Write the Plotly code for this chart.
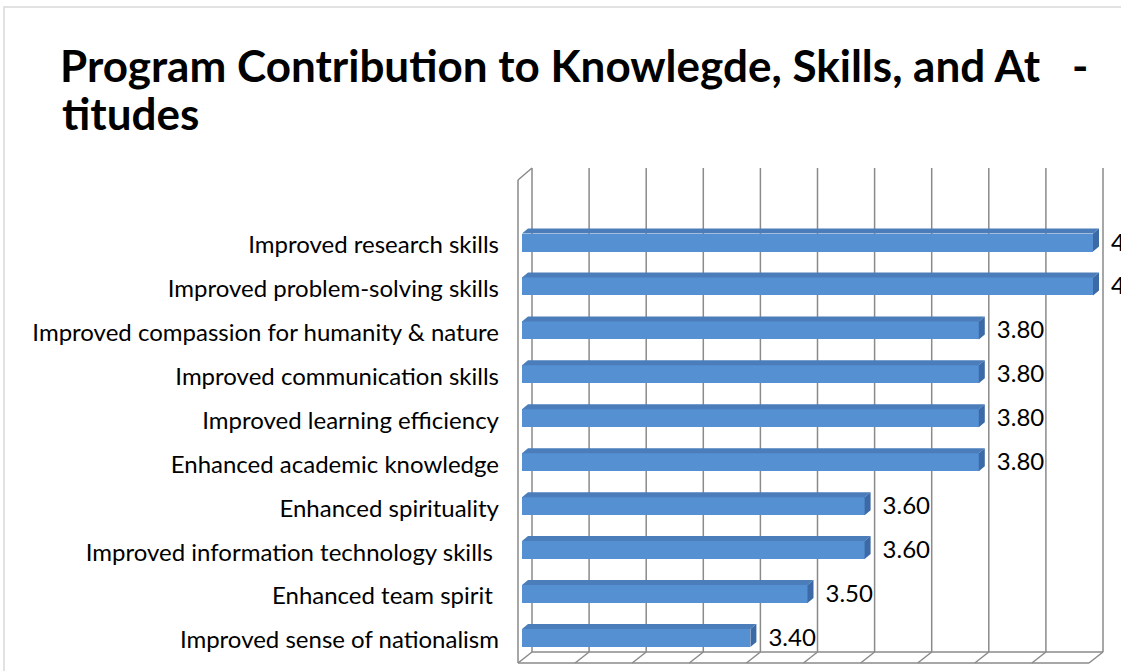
import plotly.graph_objects as go

# ---------------- data ----------------
categories = [
    "Improved sense of nationalism",
    "Enhanced team spirit\u00a0",
    "Improved information technology skills\u00a0",
    "Enhanced spirituality",
    "Enhanced academic knowledge",
    "Improved learning efficiency",
    "Improved communication skills",
    "Improved compassion for humanity & nature",
    "Improved problem-solving skills",
    "Improved research skills",
]
values = [3.40, 3.50, 3.60, 3.60, 3.80, 3.80, 3.80, 3.80, 4.00, 4.00]
axis_min, axis_max, axis_step = 3.0, 4.0, 0.1
title_line1 = "Program Contribution to Knowlegde, Skills, and At\u00a0\u00a0\u00a0-"
title_line2 = "titudes"

# ---------------- layout geometry (pixels) ----------------
W, H = 1121, 671
L, R, T, B = 505, 0, 150, 0
X0_PX, X1_PX = 522, 1093            # front face of bars: axis_min / axis_max
Y_BOT_PX, Y_TOP_PX = 638, 242.5     # centres of first / last category
xs = (X1_PX - X0_PX) / (axis_max - axis_min)
ys = (Y_BOT_PX - Y_TOP_PX) / (len(categories) - 1)

def dx(px):
    return px / xs

def dy(px):
    return px / ys

def X(px):
    return axis_min + (px - X0_PX) / xs

def Y(py):
    return (Y_BOT_PX - py) / ys

xrange_ = [X(L), X(W - R)]
yrange_ = [Y(H - B), Y(T)]

FRONT = "#5590D3"
TOP = "#4A7DBA"
SIDE = "#3C6AA6"
GRID = "#8A8A8A"
FONT = "Lato"

bar_h = dy(18)
ddx, ddy = dx(6), dy(5)
ypos = list(range(len(categories)))

fig = go.Figure()

fig.add_trace(go.Bar(
    y=ypos, x=[v - axis_min for v in values], base=axis_min,
    orientation="h", width=bar_h,
    marker=dict(color=FRONT, line=dict(width=0)),
    hoverinfo="skip", showlegend=False,
))

# top and side faces of the 3-D bars
tx, ty, sx, sy = [], [], [], []
for i, v in zip(ypos, values):
    y_top = i + bar_h / 2
    y_bot = i - bar_h / 2
    tx += [axis_min, v, v + ddx, axis_min + ddx, axis_min, None]
    ty += [y_top, y_top, y_top + ddy, y_top + ddy, y_top, None]
    sx += [v, v + ddx, v + ddx, v, v, None]
    sy += [y_bot, y_bot + ddy, y_top + ddy, y_top, y_bot, None]
fig.add_trace(go.Scatter(x=tx, y=ty, fill="toself", fillcolor=TOP, mode="lines",
                         line=dict(width=0, color=TOP), hoverinfo="skip", showlegend=False))
fig.add_trace(go.Scatter(x=sx, y=sy, fill="toself", fillcolor=SIDE, mode="lines",
                         line=dict(width=0, color=SIDE), hoverinfo="skip", showlegend=False))

# value labels
fig.add_trace(go.Scatter(
    x=[v + dx(18) for v in values], y=[i - dy(2) for i in ypos], mode="text",
    text=[f"{v:.2f}" for v in values], textposition="middle right",
    textfont=dict(family=FONT, size=24, color="#000000"),
    cliponaxis=False, hoverinfo="skip", showlegend=False,
))

# ---------------- 3-D walls and gridlines ----------------
shapes = []
back_off = 10      # back plane offset (px) relative to bar front
front_off = -4     # front plane offset (px)
back_top, back_bot = 168, 652
front_top, front_bot = 180, 663
n_ticks = int(round((axis_max - axis_min) / axis_step)) + 1
line = dict(color=GRID, width=1.5)
for k in range(n_ticks):
    v = axis_min + k * axis_step
    shapes.append(dict(type="line", xref="x", yref="y", layer="below",
                       x0=v + dx(back_off), x1=v + dx(back_off),
                       y0=Y(back_bot), y1=Y(back_top), line=line))
    shapes.append(dict(type="line", xref="x", yref="y", layer="below",
                       x0=v + dx(back_off), x1=v + dx(front_off),
                       y0=Y(back_bot), y1=Y(front_bot), line=line))
shapes.append(dict(type="line", xref="x", yref="y", layer="below",
                   x0=axis_min + dx(back_off), x1=axis_max + dx(back_off),
                   y0=Y(back_bot), y1=Y(back_bot), line=line))
shapes.append(dict(type="line", xref="x", yref="y", layer="below",
                   x0=axis_min + dx(front_off), x1=axis_max + dx(front_off),
                   y0=Y(front_bot), y1=Y(front_bot), line=line))
shapes.append(dict(type="line", xref="x", yref="y", layer="below",
                   x0=axis_min + dx(front_off), x1=axis_min + dx(front_off),
                   y0=Y(front_bot), y1=Y(front_top), line=line))
shapes.append(dict(type="line", xref="x", yref="y", layer="below",
                   x0=axis_min + dx(front_off), x1=axis_min + dx(back_off),
                   y0=Y(front_top), y1=Y(back_top), line=line))

# chart border (paper coordinates)
pw, ph = W - L - R, H - T - B
def PX(px):
    return (px - L) / pw
def PY(py):
    return (H - B - py) / ph
shapes.append(dict(type="rect", xref="paper", yref="paper", layer="below",
                   x0=PX(4), x1=PX(W + 10), y0=PY(H + 10), y1=PY(7),
                   line=dict(color="#D9D9D9", width=1.5), fillcolor="rgba(0,0,0,0)"))

title_font = dict(family=FONT, size=44, color="#000000", weight="bold")
fig.update_layout(
    width=W, height=H,
    margin=dict(l=L, r=R, t=T, b=B, autoexpand=False),
    paper_bgcolor="#FFFFFF", plot_bgcolor="#FFFFFF",
    shapes=shapes,
    bargap=0,
    title=dict(text=title_line1, x=60 / W, xanchor="left", xref="container",
               y=1 - 67 / H, yanchor="middle", yref="container", font=title_font),
    annotations=[dict(text=title_line2, x=PX(60), xanchor="left", xref="paper",
                      y=PY(113), yanchor="middle", yref="paper", showarrow=False,
                      font=title_font)],
    xaxis=dict(range=xrange_, showgrid=False, zeroline=False, showticklabels=False,
               showline=False, ticks="", fixedrange=True),
    yaxis=dict(range=yrange_, tickmode="array", tickvals=ypos, ticktext=categories,
               showgrid=False, zeroline=False, showline=False, ticks="",
               ticklabelstandoff=5, ticklabelshift=2,
               tickfont=dict(family=FONT, size=24, color="#000000"), fixedrange=True),
    font=dict(family=FONT),
)

fig.write_html("out.html", config={"displayModeBar": False},
               post_script="document.body.style.margin='0px';")
